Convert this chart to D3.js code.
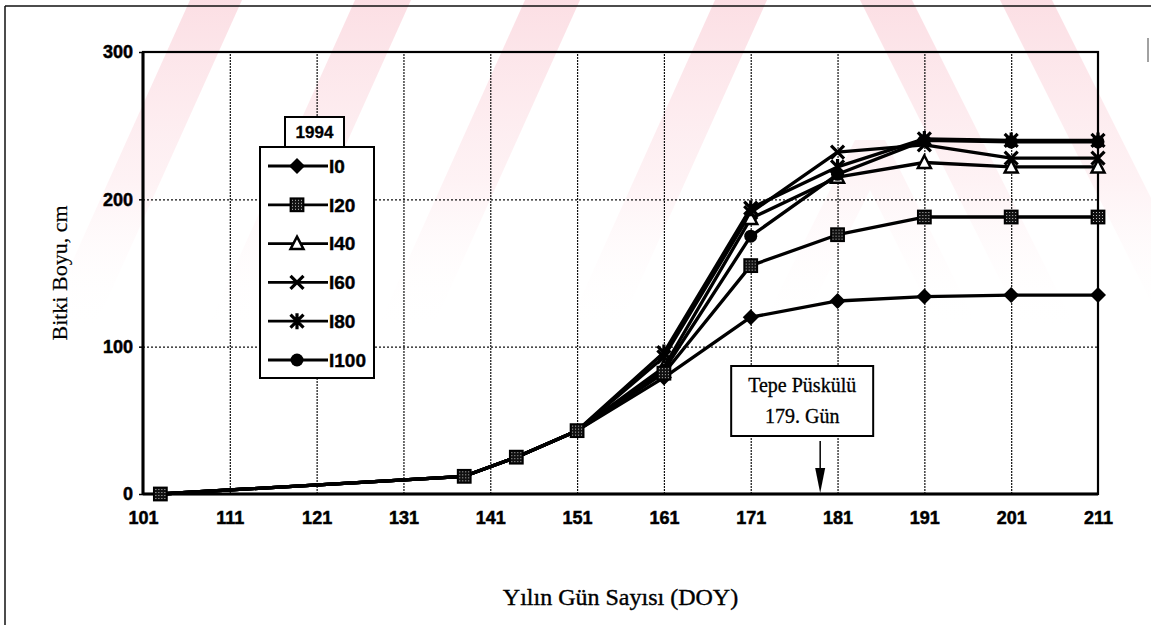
<!DOCTYPE html>
<html>
<head>
<meta charset="utf-8">
<script src="https://cdn.jsdelivr.net/npm/d3@7"></script>
<style>
  html, body { margin: 0; padding: 0; background: #fff; }
  svg { display: block; }
</style>
</head>
<body>
<svg id="chart" width="1151" height="625"></svg>
<script>
// ---------- data ----------
const days = [103, 138, 144, 151, 161, 171, 181, 191, 201, 211];
const I0   = [0, 12, 25, 43, 79, 120, 131, 134, 135, 135];
const I20  = [0, 12, 25, 43, 82, 155, 176, 188, 188, 188];
const I40  = [0, 12, 25, 43, 86, 187, 215, 225, 222, 222];
const I60  = [0, 12, 25, 43, 93, 191, 232, 237, 228, 228];
const I80  = [0, 12, 25, 43, 96, 194, 222, 241, 240, 240];
const I100 = [0, 12, 25, 43, 84, 175, 217, 240, 239, 239];
const seriesNames = ["I0", "I20", "I40", "I60", "I80", "I100"];
const seriesValues = [I0, I20, I40, I60, I80, I100];
const markerTypes = ["diamond", "square", "triangle", "cross", "asterisk", "circle"];
const xTicks = [101, 111, 121, 131, 141, 151, 161, 171, 181, 191, 201, 211];
const yTicks = [0, 100, 200, 300];
const yearLabel = "1994";
const annotationLines = ["Tepe Püskülü", "179. Gün"];
const annotationDay = 179;
const xTitle = "Yılın Gün Sayısı (DOY)";
const yTitle = "Bitki Boyu, cm";

(function () {
// ---------- setup ----------
const svg = d3.select("#chart");
const W = 1151, H = 625;
const pL = 143, pR = 1098, pT = 52, pB = 494;
const x = d3.scaleLinear().domain([101, 211]).range([pL, pR]);
const y = d3.scaleLinear().domain([0, 300]).range([pB, pT]);
const sansNarrow = "'Liberation Sans Narrow', 'Arial Narrow', 'Liberation Sans', Arial, sans-serif";
const serif = "'Liberation Serif', 'Times New Roman', 'DejaVu Serif', serif";

const defs = svg.append("defs");
const grad = defs.append("linearGradient").attr("id", "fade")
  .attr("gradientUnits", "userSpaceOnUse").attr("x1", 0).attr("y1", 0).attr("x2", 0).attr("y2", 330);
grad.append("stop").attr("offset", 0).attr("stop-color", "#fbdbe1").attr("stop-opacity", 0.9);
grad.append("stop").attr("offset", 0.55).attr("stop-color", "#fde8ec").attr("stop-opacity", 0.55);
grad.append("stop").attr("offset", 1).attr("stop-color", "#fff").attr("stop-opacity", 0);
const pat = defs.append("pattern").attr("id", "dots").attr("width", 3).attr("height", 3).attr("patternUnits", "userSpaceOnUse");
pat.append("rect").attr("width", 3).attr("height", 3).attr("fill", "#111");
pat.append("rect").attr("x", 1).attr("y", 1).attr("width", 1).attr("height", 1).attr("fill", "#bbb");

svg.append("rect").attr("width", W).attr("height", H).attr("fill", "#fff");

// ---------- watermark stripes (decorative) ----------
const wm = svg.append("g").attr("fill", "url(#fade)");
const band = (x0, w, slope, y1) => [[x0, 0], [x0 + w, 0], [x0 + w + slope * y1, y1], [x0 + slope * y1, y1]];
[[190, 52, -0.45], [355, 56, -0.45], [525, 55, -0.45], [715, 52, -0.45], [860, 52, 0.5], [1000, 52, 0.5]].forEach(b => {
  wm.append("polygon").attr("points", band(b[0], b[1], b[2], 330).map(p => p.join(",")).join(" "));
});
wm.append("polygon").attr("points", "855,140 885,140 980,330 940,330 870,190 800,330 760,330").attr("opacity", 0.8);

// ---------- outer frame ----------
svg.append("line").attr("x1", 5).attr("x2", W).attr("y1", 6).attr("y2", 6).attr("stroke", "#111").attr("stroke-width", 1.5);
svg.append("line").attr("x1", 5).attr("x2", 5).attr("y1", 6).attr("y2", H).attr("stroke", "#111").attr("stroke-width", 1.5);
svg.append("line").attr("x1", 1148).attr("x2", 1148).attr("y1", 38).attr("y2", 62).attr("stroke", "#444").attr("stroke-width", 1);

// ---------- grid ----------
const gridX = svg.append("g").attr("transform", `translate(0,${pB})`)
  .call(d3.axisBottom(x).tickValues(xTicks.slice(1, -1)).tickSize(-(pB - pT)).tickFormat(""));
gridX.select(".domain").remove();
gridX.selectAll("line").attr("stroke", "#111").attr("stroke-width", 1.2).attr("stroke-dasharray", "2,1");

const gridY = svg.append("g").attr("transform", `translate(${pL},0)`)
  .call(d3.axisLeft(y).tickValues([100, 200]).tickSize(-(pR - pL)).tickFormat(""));
gridY.select(".domain").remove();
gridY.selectAll("line").attr("stroke", "#111").attr("stroke-width", 1.2).attr("stroke-dasharray", "2,2");

// ---------- axes ----------
const xAxis = svg.append("g").attr("transform", `translate(0,${pB})`)
  .call(d3.axisBottom(x).tickValues(xTicks).tickSize(0).tickPadding(17).tickFormat(d3.format("d")));
xAxis.select(".domain").remove();
xAxis.selectAll("text").attr("font-family", sansNarrow).attr("font-weight", "bold").attr("font-size", 18)
  .attr("fill", "#000").attr("stroke", "#000").attr("stroke-width", 0.5);

const yAxis = svg.append("g").attr("transform", `translate(${pL},0)`)
  .call(d3.axisLeft(y).tickValues(yTicks).tickSize(4).tickPadding(6).tickFormat(d3.format("d")));
yAxis.select(".domain").remove();
yAxis.selectAll("line").attr("stroke", "#000").attr("stroke-width", 1.5);
yAxis.selectAll("text").attr("font-family", sansNarrow).attr("font-weight", "bold").attr("font-size", 18)
  .attr("fill", "#000").attr("stroke", "#000").attr("stroke-width", 0.5);

svg.append("rect").attr("x", pL).attr("y", pT).attr("width", pR - pL).attr("height", pB - pT)
  .attr("fill", "none").attr("stroke", "#000").attr("stroke-width", 2.2);
svg.append("line").attr("x1", pL).attr("x2", pR).attr("y1", pB).attr("y2", pB).attr("stroke", "#000").attr("stroke-width", 3);
svg.append("line").attr("x1", pL).attr("x2", pL).attr("y1", pT).attr("y2", pB).attr("stroke", "#000").attr("stroke-width", 3);

// ---------- markers ----------
function drawMarker(g, type, cx, cy) {
  const m = g.append("g").attr("transform", `translate(${cx},${cy})`);
  if (type === "diamond") {
    m.append("path").attr("d", "M0,-8 L8,0 L0,8 L-8,0Z").attr("fill", "#000");
  } else if (type === "square") {
    m.append("rect").attr("x", -6.5).attr("y", -6.5).attr("width", 13).attr("height", 13).attr("fill", "url(#dots)").attr("stroke", "#000").attr("stroke-width", 1.8);
  } else if (type === "triangle") {
    m.append("path").attr("d", "M0,-7 L6.5,5.5 L-6.5,5.5Z").attr("fill", "#fff").attr("stroke", "#000").attr("stroke-width", 2.5);
  } else if (type === "cross") {
    m.append("path").attr("d", "M-6.5,-6.5 L6.5,6.5 M-6.5,6.5 L6.5,-6.5").attr("stroke", "#000").attr("stroke-width", 3.2);
  } else if (type === "asterisk") {
    m.append("path").attr("d", "M-6.5,-6.5 L6.5,6.5 M-6.5,6.5 L6.5,-6.5 M0,-8 L0,8").attr("stroke", "#000").attr("stroke-width", 3.2);
  } else if (type === "circle") {
    m.append("circle").attr("r", 6.5).attr("fill", "#000");
  }
}

// ---------- series ----------
const line = d3.line().x(d => x(d[0])).y(d => y(d[1]));
const seriesG = svg.append("g");
seriesValues.forEach((vals) => {
  const pts = days.map((d, j) => [d, vals[j]]);
  seriesG.append("path").attr("d", line(pts)).attr("fill", "none").attr("stroke", "#000").attr("stroke-width", 3.3).attr("stroke-linejoin", "round");
});
const order = [0, 2, 3, 5, 4, 1];
order.forEach(i => {
  const vals = seriesValues[i];
  days.forEach((d, j) => {
    if (j < 4 && i !== 1) return;
    drawMarker(seriesG, markerTypes[i], x(d), y(vals[j]));
  });
});

// ---------- legend ----------
const lg = svg.append("g");
lg.append("rect").attr("x", 260).attr("y", 147).attr("width", 114).attr("height", 231).attr("fill", "#fff").attr("stroke", "#000").attr("stroke-width", 2);
const legY = d3.scalePoint().domain(seriesNames).range([166, 360]);
seriesNames.forEach((n, i) => {
  const ly = legY(n);
  lg.append("line").attr("x1", 268).attr("x2", 328).attr("y1", ly).attr("y2", ly).attr("stroke", "#000").attr("stroke-width", 2.8);
  drawMarker(lg, markerTypes[i], 297, ly);
  lg.append("text").attr("x", 329).attr("y", ly).attr("dy", "0.36em").text(n)
    .attr("font-family", sansNarrow).attr("font-weight", "bold").attr("font-size", 19)
    .attr("fill", "#000").attr("stroke", "#000").attr("stroke-width", 0.4);
});

const yb = svg.append("g");
yb.append("rect").attr("x", 285).attr("y", 117).attr("width", 59).attr("height", 30).attr("fill", "#fff").attr("stroke", "#000").attr("stroke-width", 2);
yb.append("text").attr("x", 314.5).attr("y", 132).attr("dy", "0.36em").attr("text-anchor", "middle").text(yearLabel)
  .attr("font-family", sansNarrow).attr("font-weight", "bold").attr("font-size", 17)
  .attr("fill", "#000").attr("stroke", "#000").attr("stroke-width", 0.3);

// ---------- annotation ----------
const ax = x(annotationDay);
const an = svg.append("g");
an.append("rect").attr("x", ax - 89).attr("y", 366).attr("width", 142).attr("height", 70).attr("fill", "#fff").attr("stroke", "#000").attr("stroke-width", 2);
annotationLines.forEach((t, i) => {
  an.append("text").attr("x", ax - 18).attr("y", 392 + i * 31).attr("text-anchor", "middle").text(t)
    .attr("font-family", serif).attr("font-size", 20).attr("fill", "#000").attr("stroke", "#000").attr("stroke-width", 0.3);
});
an.append("line").attr("x1", ax).attr("x2", ax).attr("y1", 441).attr("y2", 475).attr("stroke", "#000").attr("stroke-width", 1.5);
an.append("path").attr("d", `M${ax - 5},468 L${ax + 5},468 L${ax},${pB - 1}Z`).attr("fill", "#000");

// ---------- titles ----------
svg.append("text").attr("x", (pL + pR) / 2).attr("y", 605).attr("text-anchor", "middle").text(xTitle)
  .attr("font-family", serif).attr("font-size", 24).attr("fill", "#000").attr("stroke", "#000").attr("stroke-width", 0.4);
svg.append("text").attr("transform", `translate(67,${(pT + pB) / 2}) rotate(-90)`).attr("text-anchor", "middle").text(yTitle)
  .attr("font-family", serif).attr("font-size", 22).attr("fill", "#000").attr("stroke", "#000").attr("stroke-width", 0.2);
})();
</script>
</body>
</html>
